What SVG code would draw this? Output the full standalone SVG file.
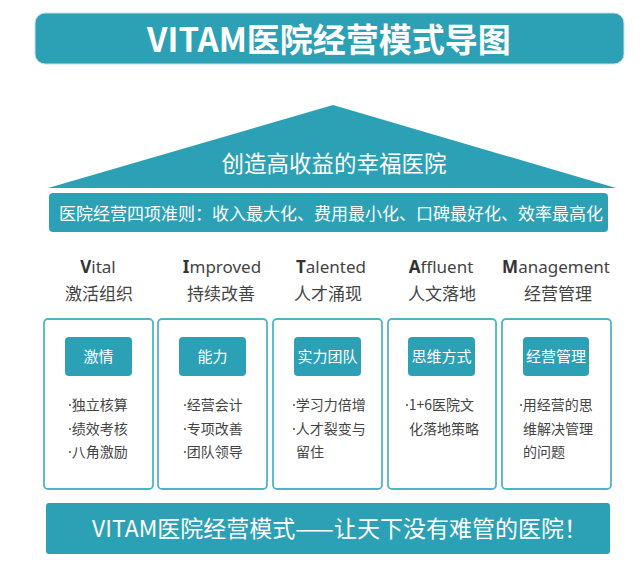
<svg xmlns="http://www.w3.org/2000/svg" width="640" height="573" viewBox="0 0 640 573">
<style>
.teal{fill:#2ca1b6}
.w{fill:#ffffff;font-family:"Noto Sans CJK SC","Noto Sans",sans-serif}
.card{fill:#ffffff;stroke:#4fb4c8;stroke-width:1.8}
.hd{font-family:"Noto Sans","Noto Sans CJK SC",sans-serif;font-size:17px;fill:#444444;text-anchor:middle}
.hd tspan.b{font-weight:bold;fill:#333333}
.cn{font-family:"Noto Sans CJK SC",sans-serif;font-size:17px;fill:#444444;text-anchor:middle}
.lab{font-family:"Noto Sans CJK SC",sans-serif;font-size:15px;fill:#ffffff;text-anchor:middle}
.bl{font-family:"Noto Sans CJK SC",sans-serif;font-size:14px;fill:#444444}
.bl tspan.d{font-family:"Noto Sans",sans-serif}
</style>
<rect width="640" height="573" fill="#ffffff"/>
<g id="title">
<rect x="35" y="13" width="589" height="51" rx="10" class="teal" stroke="#bfe3ea" stroke-width="1"/>
<text x="329" y="52" class="w" font-size="33" font-weight="bold" text-anchor="middle">VITAM医院经营模式导图</text>
</g>
<g id="roof">
<polygon points="333,105 616,188 48,188" class="teal"/>
<text x="334" y="172" class="w" font-size="22.5" text-anchor="middle">创造高收益的幸福医院</text>
</g>
<g id="principles">
<rect x="49" y="193" width="559" height="39" rx="4" class="teal"/>
<text x="331" y="220" class="w" font-size="17" text-anchor="middle">医院经营四项准则：收入最大化、费用最小化、口碑最好化、效率最高化</text>
</g>
<g id="col-vital">
<text x="98" y="273" class="hd"><tspan class="b">V</tspan>ital</text>
<text x="99" y="300" class="cn">激活组织</text>
<rect x="44" y="319" width="109" height="170" rx="4" class="card"/>
<rect x="65" y="337" width="67" height="39" rx="4" class="teal"/>
<text x="98.5" y="362" class="lab">激情</text>
<text x="68" y="410" class="bl"><tspan class="d">·</tspan>独立核算</text>
<text x="68" y="433.5" class="bl"><tspan class="d">·</tspan>绩效考核</text>
<text x="68" y="457" class="bl"><tspan class="d">·</tspan>八角激励</text>
</g>
<g id="col-improved">
<text x="222" y="273" class="hd"><tspan class="b">I</tspan>mproved</text>
<text x="221" y="300" class="cn">持续改善</text>
<rect x="158" y="319" width="109" height="170" rx="4" class="card"/>
<rect x="179" y="337" width="67" height="39" rx="4" class="teal"/>
<text x="212.5" y="362" class="lab">能力</text>
<text x="183" y="410" class="bl"><tspan class="d">·</tspan>经营会计</text>
<text x="183" y="433.5" class="bl"><tspan class="d">·</tspan>专项改善</text>
<text x="183" y="457" class="bl"><tspan class="d">·</tspan>团队领导</text>
</g>
<g id="col-talented">
<text x="331" y="273" class="hd"><tspan class="b">T</tspan>alented</text>
<text x="328" y="300" class="cn">人才涌现</text>
<rect x="273" y="319" width="109" height="170" rx="4" class="card"/>
<rect x="294" y="337" width="67" height="39" rx="4" class="teal"/>
<text x="327.5" y="362" class="lab">实力团队</text>
<text x="292" y="410" class="bl"><tspan class="d">·</tspan>学习力倍增</text>
<text x="292" y="433.5" class="bl"><tspan class="d">·</tspan>人才裂变与</text>
<text x="296" y="457" class="bl">留住</text>
</g>
<g id="col-affluent">
<text x="441" y="273" class="hd"><tspan class="b">A</tspan>ffluent</text>
<text x="442" y="300" class="cn">人文落地</text>
<rect x="388" y="319" width="108" height="170" rx="4" class="card"/>
<rect x="408" y="337" width="67" height="39" rx="4" class="teal"/>
<text x="441.5" y="362" class="lab">思维方式</text>
<text x="405" y="410" class="bl"><tspan class="d">·</tspan>1+6医院文</text>
<text x="409" y="433.5" class="bl">化落地策略</text>
</g>
<g id="col-management">
<text x="556" y="273" class="hd"><tspan class="b">M</tspan>anagement</text>
<text x="558" y="300" class="cn">经营管理</text>
<rect x="502" y="319" width="109" height="170" rx="4" class="card"/>
<rect x="523" y="337" width="66" height="39" rx="4" class="teal"/>
<text x="556" y="362" class="lab">经营管理</text>
<text x="519" y="410" class="bl"><tspan class="d">·</tspan>用经营的思</text>
<text x="523" y="433.5" class="bl">维解决管理</text>
<text x="523" y="457" class="bl">的问题</text>
</g>
<g id="slogan">
<rect x="46" y="503" width="564" height="51" rx="3" class="teal"/>
<text x="92" y="537" class="w" font-size="23">VITAM医院经营模式——让天下没有难管的医院！</text>
</g>
</svg>
